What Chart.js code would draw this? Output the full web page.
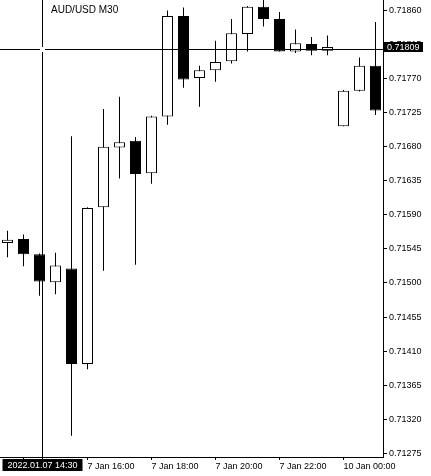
<!DOCTYPE html>
<html><head><meta charset="utf-8">
<script src="https://cdn.jsdelivr.net/npm/chart.js@4.4.0/dist/chart.umd.min.js"></script>
<style>html,body{margin:0;padding:0;background:#fff;overflow:hidden}canvas{display:block}</style>
</head><body>
<canvas id="c" width="431" height="476"></canvas>
<script>
// ---- data (AUD/USD M30) ----
const times = ['7 Jan 13:30','7 Jan 14:00','7 Jan 14:30','7 Jan 15:00','7 Jan 15:30','7 Jan 16:00','7 Jan 16:30','7 Jan 17:00','7 Jan 17:30','7 Jan 18:00','7 Jan 18:30','7 Jan 19:00','7 Jan 19:30','7 Jan 20:00','7 Jan 20:30','7 Jan 21:00','7 Jan 21:30','7 Jan 22:00','7 Jan 22:30','7 Jan 23:00','7 Jan 23:30','10 Jan 00:00','10 Jan 00:30','10 Jan 01:00'];
const openP  = [0.71553,0.71558,0.71538,0.71501,0.71519,0.71393,0.71600,0.71679,0.71688,0.71645,0.71720,0.71853,0.71771,0.71781,0.71793,0.71829,0.71865,0.71849,0.71806,0.71816,0.71807,0.71707,0.71754,0.71787];
const highP  = [0.71569,0.71564,0.71539,0.71540,0.71694,0.71600,0.71730,0.71746,0.71693,0.71721,0.71860,0.71864,0.71787,0.71820,0.71849,0.71866,0.71878,0.71858,0.71835,0.71825,0.71827,0.71755,0.71798,0.71845];
const lowP   = [0.71534,0.71522,0.71483,0.71485,0.71298,0.71386,0.71516,0.71638,0.71524,0.71631,0.71709,0.71758,0.71733,0.71766,0.71790,0.71806,0.71839,0.71806,0.71804,0.71801,0.71801,0.71707,0.71753,0.71722];
const closeP = [0.71557,0.71538,0.71502,0.71523,0.71393,0.71599,0.71680,0.71686,0.71644,0.71720,0.71853,0.71769,0.71781,0.71792,0.71830,0.71865,0.71849,0.71806,0.71817,0.71807,0.71812,0.71754,0.71787,0.71728];
const yTickValues = [0.71275,0.71320,0.71365,0.71410,0.71455,0.71500,0.71545,0.71590,0.71635,0.71680,0.71725,0.71770,0.71815,0.71860];
const xTickIndex  = [1,5,9,13,17,21];
const xTickLabels = ['7 Jan 14:00','7 Jan 16:00','7 Jan 18:00','7 Jan 20:00','7 Jan 22:00','10 Jan 00:00'];
const chartTitle = 'AUD/USD M30';
const crossIndex = 2.1875;
const crossPrice = 0.71809;
const crossTimeText = '2022.01.07 14:30';

const FONT = 'Liberation Sans';
const idx = times.map((t, i) => i);

const crosshair = {
  id: 'crosshair',
  afterDraw(chart) {
    const ctx = chart.ctx, a = chart.chartArea;
    const xs = chart.scales.x, ys = chart.scales.y;
    const cx = Math.floor(xs.getPixelForValue(crossIndex)) + 0.5;
    const cy = Math.floor(ys.getPixelForValue(crossPrice)) + 0.5;
    ctx.save();
    ctx.strokeStyle = '#000';
    ctx.lineWidth = 1;
    ctx.beginPath();
    ctx.moveTo(a.left, cy); ctx.lineTo(cx - 2.5, cy);
    ctx.moveTo(cx + 2.5, cy); ctx.lineTo(a.right, cy);
    ctx.moveTo(cx, a.top); ctx.lineTo(cx, cy - 2.5);
    ctx.moveTo(cx, cy + 2.5); ctx.lineTo(cx, a.bottom + 3);
    ctx.stroke();
    // price label
    ctx.fillStyle = '#000';
    ctx.fillRect(a.right + 1, cy - 7.5, 39, 10);
    ctx.fillStyle = '#fff';
    ctx.font = '9px "' + FONT + '"';
    ctx.textBaseline = 'middle';
    ctx.textAlign = 'left';
    ctx.fillText(crossPrice.toFixed(5), a.right + 4, cy - 2.2);
    // time label
    ctx.fillStyle = '#000';
    ctx.fillRect(cx - 40, a.bottom + 2, 80, 12);
    ctx.fillStyle = '#fff';
    ctx.textAlign = 'center';
    ctx.fillText(crossTimeText, cx, a.bottom + 8.5);
    // title
    ctx.fillStyle = '#000';
    ctx.textAlign = 'left';
    ctx.textBaseline = 'alphabetic';
    ctx.font = '10px "' + FONT + '"';
    ctx.fillText(chartTitle, 51, 13);
    ctx.restore();
  }
};

new Chart(document.getElementById('c'), {
  type: 'bar',
  data: {
    datasets: [
      {
        label: 'body',
        data: idx.map(i => ({ x: i, y: [openP[i], closeP[i]] })),
        backgroundColor: idx.map(i => closeP[i] >= openP[i] ? '#ffffff' : '#000000'),
        borderColor: '#000',
        borderWidth: 1,
        borderSkipped: false,
        barThickness: 11,
        grouped: false,
        inflateAmount: 0
      },
      {
        label: 'wick',
        data: idx.map(i => ({ x: i, y: [lowP[i], highP[i]] })),
        backgroundColor: '#000',
        borderWidth: 0,
        barThickness: 1,
        grouped: false,
        inflateAmount: 0
      }
    ]
  },
  options: {
    responsive: false,
    animation: false,
    devicePixelRatio: 1,
    layout: { padding: 0 },
    plugins: { legend: { display: false }, tooltip: { enabled: false }, title: { display: false } },
    scales: {
      x: {
        type: 'linear',
        position: 'bottom',
        min: -0.46875,
        max: 23.46875,
        offset: false,
        afterFit(s) { s.height = 19; s.paddingLeft = 0; s.paddingRight = 0; },
        afterBuildTicks(s) { s.ticks = xTickIndex.map(v => ({ value: v })); },
        ticks: {
          autoSkip: false, maxRotation: 0, minRotation: 0, align: 'start', padding: 1,
          color: '#000', font: { family: FONT, size: 9 },
          callback: v => { const j = xTickIndex.indexOf(v); return j >= 0 ? xTickLabels[j] : ''; }
        },
        grid: { offset: false, drawOnChartArea: false, drawTicks: true, tickLength: 3, color: '#000' },
        border: { display: true, color: '#000', width: 1 }
      },
      y: {
        type: 'linear',
        position: 'right',
        min: 0.71270,
        max: 0.71874,
        afterFit(s) { s.width = 48; s.paddingTop = 0; s.paddingBottom = 0; },
        afterBuildTicks(s) { s.ticks = yTickValues.map(v => ({ value: v })); },
        ticks: {
          padding: 2, color: '#000', font: { family: FONT, size: 9 },
          callback: v => Number(v).toFixed(5)
        },
        grid: { drawOnChartArea: false, drawTicks: true, tickLength: 4, color: '#000' },
        border: { display: true, color: '#000', width: 1 }
      }
    }
  },
  plugins: [crosshair]
});
</script>
</body></html>
